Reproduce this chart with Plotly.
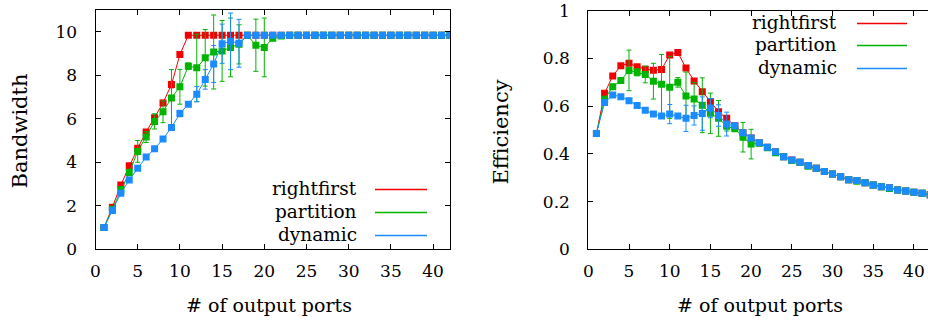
import plotly.graph_objects as go

# ---------------- data ----------------
ports = list(range(1, 43))

rightfirst_bw = [1.0, 1.93, 2.96, 3.84, 4.65, 5.39, 6.05, 6.73, 7.57, 8.95, 9.84, 9.84,
                 9.84, 9.84, 9.84, 9.84, 9.84, 9.84, 9.84, 9.84, 9.84, 9.84, 9.84, 9.84,
                 9.84, 9.84, 9.84, 9.84, 9.84, 9.84, 9.84, 9.84, 9.84, 9.84, 9.84, 9.84,
                 9.84, 9.84, 9.84, 9.84, 9.84, 9.84]
rightfirst_bw_err = [0, 0.05, 0.08, 0.1, 0.1, 0.1, 0.1, 0.12, 0.15, 0.1, 0, 0,
                     0, 0, 0, 0, 0, 0, 0, 0, 0, 0, 0, 0, 0, 0, 0, 0, 0, 0, 0, 0,
                     0, 0, 0, 0, 0, 0, 0, 0, 0, 0]

partition_bw = [1.0, 1.84, 2.73, 3.53, 4.5, 5.16, 5.88, 6.32, 6.96, 7.47, 8.42, 8.34,
                8.8, 9.07, 9.12, 9.28, 9.42, 9.84, 9.38, 9.28, 9.7, 9.8, 9.84, 9.84,
                9.84, 9.84, 9.84, 9.84, 9.84, 9.84, 9.84, 9.84, 9.84, 9.84, 9.84, 9.84,
                9.84, 9.84, 9.84, 9.84, 9.84, 9.84]
partition_bw_err = [0, 0.1, 0.15, 0.15, 0.5, 0.25, 0.35, 0.5, 1.3, 0.8, 0.15, 1.55,
                    1.3, 1.7, 1.4, 1.35, 0.9, 0, 1.2, 1.35, 0.1, 0, 0, 0, 0, 0, 0, 0,
                    0, 0, 0, 0, 0, 0, 0, 0, 0, 0, 0, 0, 0, 0]

dynamic_bw = [1.0, 1.78, 2.58, 3.19, 3.73, 4.24, 4.62, 5.07, 5.6, 6.24, 6.67, 7.13,
              7.81, 8.52, 9.45, 9.56, 9.47, 9.84, 9.84, 9.84, 9.84, 9.84, 9.84, 9.84,
              9.84, 9.84, 9.84, 9.84, 9.84, 9.84, 9.84, 9.84, 9.84, 9.84, 9.84, 9.84,
              9.84, 9.84, 9.84, 9.84, 9.84, 9.84]
dynamic_bw_err = [0, 0, 0, 0, 0, 0, 0, 0, 0.05, 0.15, 0.1, 0.35, 0.45, 0.85, 0.9, 1.3,
                  1.1, 0, 0, 0, 0, 0, 0, 0, 0, 0, 0, 0, 0, 0, 0, 0, 0, 0, 0, 0, 0, 0,
                  0, 0, 0, 0]

rightfirst_eff = [0.486, 0.654, 0.727, 0.77, 0.78, 0.765, 0.755, 0.751, 0.754, 0.815,
                  0.825, 0.76, 0.706, 0.661, 0.619, 0.577, 0.549, 0.518, 0.489, 0.467,
                  0.447, 0.428, 0.409, 0.388, 0.374, 0.365, 0.351, 0.34, 0.326, 0.316,
                  0.304, 0.292, 0.288, 0.279, 0.27, 0.262, 0.258, 0.249, 0.244, 0.239,
                  0.235, 0.229]
rightfirst_eff_err = [0] * 42

partition_eff = [0.486, 0.629, 0.682, 0.708, 0.75, 0.742, 0.733, 0.705, 0.692, 0.679,
                 0.7, 0.643, 0.63, 0.604, 0.57, 0.549, 0.516, 0.505, 0.47, 0.441,
                 0.445, 0.426, 0.405, 0.388, 0.372, 0.365, 0.348, 0.34, 0.326, 0.316,
                 0.304, 0.292, 0.285, 0.279, 0.27, 0.262, 0.255, 0.249, 0.244, 0.239,
                 0.235, 0.229]
partition_eff_err = [0, 0.01, 0.01, 0.01, 0.085, 0.015, 0.035, 0.075, 0.125, 0.13,
                     0.02, 0.1, 0.07, 0.115, 0.085, 0.075, 0.02, 0.01, 0.062, 0.062,
                     0.01, 0, 0, 0, 0, 0, 0, 0, 0, 0, 0, 0, 0, 0, 0, 0, 0, 0, 0, 0, 0, 0]

dynamic_eff = [0.486, 0.615, 0.647, 0.64, 0.623, 0.603, 0.583, 0.567, 0.559, 0.567,
               0.559, 0.549, 0.561, 0.569, 0.592, 0.561, 0.525, 0.518, 0.489, 0.467,
               0.447, 0.428, 0.409, 0.388, 0.374, 0.365, 0.351, 0.34, 0.326, 0.316,
               0.304, 0.292, 0.288, 0.279, 0.27, 0.262, 0.258, 0.249, 0.244, 0.239,
               0.235, 0.229]
dynamic_eff_err = [0, 0, 0, 0, 0.01, 0.01, 0, 0, 0, 0.04, 0, 0.055, 0.04, 0.07, 0.04,
                   0.045, 0.05, 0, 0, 0, 0, 0, 0, 0, 0, 0, 0, 0, 0, 0, 0, 0, 0, 0, 0,
                   0, 0, 0, 0, 0, 0, 0]

series_names = ["rightfirst", "partition", "dynamic"]
x_ticks = [0, 5, 10, 15, 20, 25, 30, 35, 40]
bw_ticks = [0, 2, 4, 6, 8, 10]
eff_ticks = [0, 0.2, 0.4, 0.6, 0.8, 1]

# ---------------- style ----------------
W, H = 928, 322
colors = ["#f00000", "#00b400", "#1a8cff"]
FONT = "DejaVu Serif"

def px(x):
    return x / W

def py(y):
    return 1 - y / H

fig = go.Figure()

bw_sets = [(rightfirst_bw, rightfirst_bw_err), (partition_bw, partition_bw_err),
           (dynamic_bw, dynamic_bw_err)]
eff_sets = [(rightfirst_eff, rightfirst_eff_err), (partition_eff, partition_eff_err),
            (dynamic_eff, dynamic_eff_err)]

for (vals, err), c, n in zip(bw_sets, colors, series_names):
    fig.add_trace(go.Scatter(
        x=ports, y=vals, name=n, mode="lines+markers", xaxis="x", yaxis="y",
        line=dict(color=c, width=1),
        marker=dict(symbol="square", size=7, color=c),
        error_y=dict(type="data", array=err, color=c, thickness=1, width=2.5, visible=True),
        showlegend=False, hoverinfo="skip"))

for (vals, err), c, n in zip(eff_sets, colors, series_names):
    fig.add_trace(go.Scatter(
        x=ports, y=vals, name=n, mode="lines+markers", xaxis="x2", yaxis="y2",
        line=dict(color=c, width=1),
        marker=dict(symbol="square", size=7, color=c),
        error_y=dict(type="data", array=err, color=c, thickness=1, width=2.5, visible=True),
        showlegend=False, hoverinfo="skip"))

tickfont = dict(family=FONT, size=17, color="black")
common_x = dict(ticks="inside", ticklen=5, tickcolor="black", showline=True,
                linecolor="black", linewidth=1, mirror="ticks", showgrid=False,
                zeroline=False, tickvals=x_ticks, tickfont=tickfont,
                ticklabelstandoff=6, automargin=False)
common_y = dict(ticks="inside", ticklen=5, tickcolor="black", showline=True,
                linecolor="black", linewidth=1, showgrid=False, zeroline=False,
                tickfont=tickfont, ticklabelstandoff=14, automargin=False)

fig.update_layout(
    template="none",
    width=W, height=H,
    margin=dict(l=0, r=0, t=0, b=0, pad=0),
    paper_bgcolor="white", plot_bgcolor="white",
    hovermode=False,
    xaxis=dict(domain=[px(95.5), px(450)], range=[0, 42], anchor="y", **common_x),
    yaxis=dict(domain=[py(249.3), py(10)], range=[0, 11], anchor="x",
               tickvals=bw_ticks, mirror="ticks", **common_y),
    xaxis2=dict(domain=[px(588.3), 1.0], range=[0, 41.73], anchor="y2", **common_x),
    yaxis2=dict(domain=[py(249.3), py(10.8)], range=[0, 1], anchor="x2",
                tickvals=eff_ticks, mirror=False, **common_y),
)

annotations = [
    dict(text="Bandwidth", x=px(19), y=py(131.5), textangle=-90, size=21),
    dict(text="Efficiency", x=px(500), y=py(132.5), textangle=-90, size=21),
    dict(text="# of output ports", x=px(269), y=py(305), textangle=0, size=19),
    dict(text="# of output ports", x=px(759.5), y=py(305), textangle=0, size=19),
]
for a in annotations:
    fig.add_annotation(xref="paper", yref="paper", showarrow=False,
                       font=dict(family=FONT, size=a["size"], color="black"),
                       xanchor="center", yanchor="middle", text=a["text"],
                       x=a["x"], y=a["y"], textangle=a["textangle"])

# legends (gnuplot style: right-justified text, then line sample)
legend_specs = [
    (359, 375, 427, [188, 211, 234]),
    (839, 857, 907, [22, 44, 67]),
]
for tx, l0, l1, rows in legend_specs:
    for n, c, yy in zip(series_names, colors, rows):
        fig.add_annotation(xref="paper", yref="paper", showarrow=False,
                           text=n, x=px(tx), y=py(yy), xanchor="right",
                           yanchor="middle", font=dict(family=FONT, size=18.5, color="black"))
        fig.add_shape(type="line", xref="paper", yref="paper",
                      x0=px(l0), x1=px(l1), y0=py(yy + 1.5), y1=py(yy + 1.5),
                      line=dict(color=c, width=1.5))

fig.write_html("out.html", config={"displayModeBar": False},
               post_script="document.body.style.margin='0';")
